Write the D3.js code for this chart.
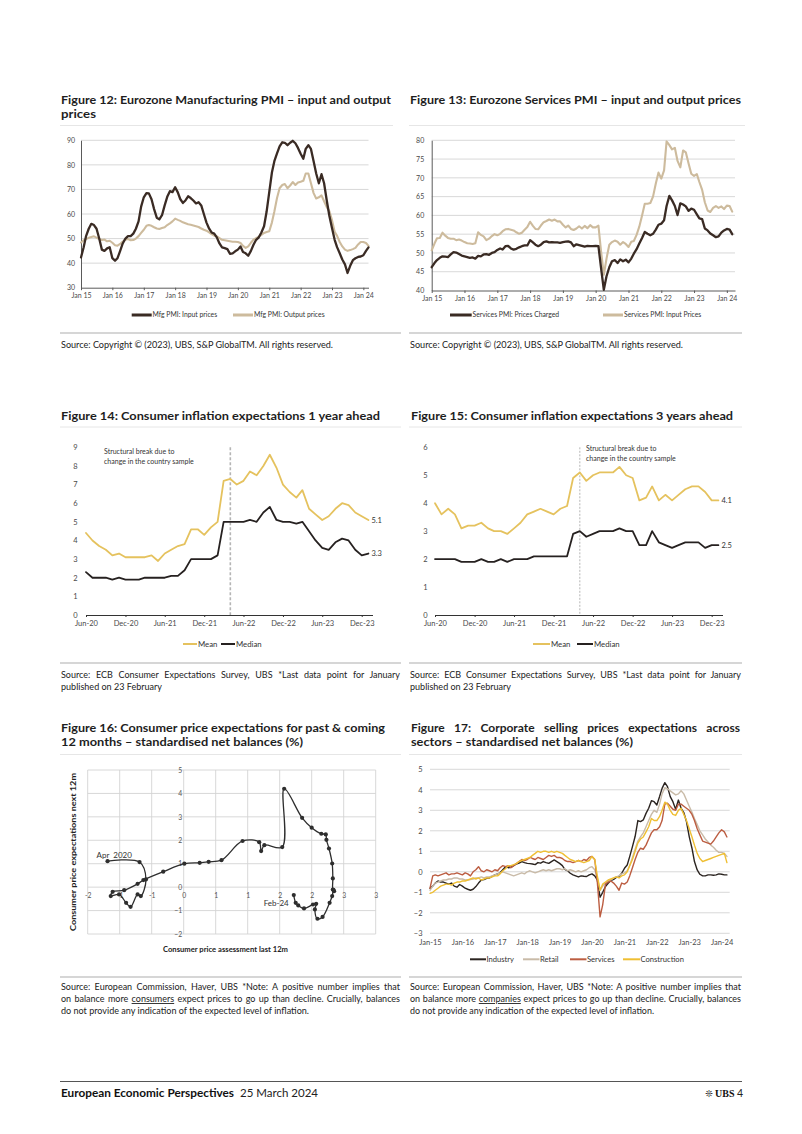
<!DOCTYPE html>
<html><head><meta charset="utf-8">
<script src="https://cdn.jsdelivr.net/npm/d3@7/dist/d3.min.js"></script>
<style>
html,body{margin:0;padding:0;background:#fff;}
svg{display:block;}
</style></head>
<body>
<svg id="page" width="802" height="1134" viewBox="0 0 802 1134"></svg>
<script>
// ================= DATA =================
const pmiStart = "2015-01";
const pmiYears = [2015,2016,2017,2018,2019,2020,2021,2022,2023,2024];

// Figure 12: Eurozone Manufacturing PMI (monthly, Jan 2015 - Mar 2024)
const f12Input = [
  42.3,46.5,51,54,56,55.5,54,50,45.5,45,46,46.5,
  42,41,42,45,48,50,51,51,52,54,57,63,
  66.8,68.5,68.4,66,62,58.5,57.8,59.5,63.5,67,69.3,68.9,
  70.9,68.8,66.1,64.5,65.5,67.2,66.5,65.5,64.3,64.8,63.5,60,
  56.5,54,52.5,52,50.5,48,46.4,46.1,45.7,43.8,44,44.8,
  45.5,46.8,44.5,44,43,45,47.5,49.5,50.5,52.5,55,61,
  69,77,81.5,84.7,87.5,89.2,89,88,89,89.8,88.8,86.9,
  84.5,82.5,86.5,88,86.5,81.5,76.5,72.5,76.2,72.5,65.5,59.3,
  54.3,49.5,46.5,44,41.5,39.5,36,38.9,41.2,42,42.5,42.7,
  43.2,45,46.4];
const f12Output = [
  48.4,49.3,49.8,50.3,50.6,50.9,50.4,49.8,49.4,49.6,48.9,49.1,
  48.3,47.3,47.1,47.8,48.8,49.5,49.8,49.3,49.4,50,51,52.3,
  53.6,55.2,55.5,55.2,54.6,54.1,53.9,54.3,54.6,55.5,56.2,57,
  58.1,57.6,57.2,56.6,56.2,55.8,55.6,55.3,55,54.7,54.1,53.6,
  53.2,52.5,51.8,51.2,50.9,50.2,49.5,49.3,49.1,48.9,48.7,48.7,
  48.6,48.2,47,46.2,46.8,48.3,49.6,50.2,50.8,51.5,52.3,52.7,
  53,56.6,61,66.5,70.5,71.8,72.2,70.5,71.6,73,71.8,72.8,
  73.1,73.5,76.5,76.5,72.5,68.5,66.3,66.8,67.6,65.2,62.8,61.2,
  57.5,52.8,51.1,48.6,46.8,45.5,45,45.3,45.7,46.2,47.6,48.6,
  48.6,48.2,47];
const f12YTicks = [30,40,50,60,70,80,90];
const f12Names = ["Mfg PMI: Input prices","Mfg PMI: Output prices"];

// Figure 13: Eurozone Services PMI (monthly, Jan 2015 - Mar 2024)
const f13Charged = [
  46.2,47.3,48.1,48.7,49.1,49.0,48.9,49.6,50.2,50.1,49.7,49.3,
  49.1,48.9,48.7,48.8,48.5,49.2,49.1,49.6,49.7,49.5,50,50.2,
  50.8,51.2,50.9,51.8,51.9,51.2,50.9,51.1,51.5,51.8,52,52,
  53.4,52.8,52.2,51.8,52.2,52.9,53.1,52.8,52.9,52.8,52.8,52.7,
  52.9,53,53.1,52.8,51.8,52.3,52.1,51.9,51.7,51.9,51.8,51.8,
  51.9,51.8,46,40.2,43.8,46.2,47.8,48.1,47.3,48.3,47.8,48.2,
  47.5,48.5,49.8,51,52.5,54,55.6,55.1,54.7,55.1,56.2,57.5,
  57.8,58.7,62.5,65.2,64,62.5,60.1,63.2,62.9,62.4,61.2,61.8,
  61.5,60.3,59.2,59,56.5,56,55.2,54.7,54.2,54.4,55.4,56,
  56.4,56.2,55];
const f13Input = [
  50.7,52.5,53.9,54,55.4,54.6,54,53.8,53.8,53.4,53.6,53.3,
  52.9,52.6,52.5,52.4,52.6,55.5,54.8,54.4,53.4,53.8,54.5,55,
  54.7,55.1,55.8,56.3,56.4,56.2,56,55.5,55.1,55.4,56.2,56.9,
  58.3,57.2,56.4,56.3,57.3,58.2,58.5,58.9,58.6,58.9,58.4,58.4,
  57.5,56.8,57.3,56.4,56.1,56.5,57.1,56.5,57.2,56.6,57.4,56.8,
  56.8,57.3,50.5,44.2,48.5,52.2,52.9,53.3,53,52.2,52.9,52.4,
  51.6,53,53.2,54.8,57,60,63.1,63.1,63.3,65,68.5,71.4,
  69.8,72,79.7,78.7,77.6,78,74.5,72.8,77.3,76.8,73.8,71.1,
  70.5,71,68.9,66.8,63.5,61.3,60.9,62,62.5,62,62.4,61.7,
  62.6,62.5,61];
const f13YTicks = [40,45,50,55,60,65,70,75,80];
const f13Names = ["Services PMI: Prices Charged","Services PMI: Input Prices"];

// Figures 14 & 15: ECB Consumer Expectations Survey (monthly, Jun 2020 - Jan 2024)
const ceStart = "2020-06";
const ceBreak = "2022-04";
const ceXTicks = ["2020-06","2020-12","2021-06","2021-12","2022-06","2022-12","2023-06","2023-12"];
const ceNames = ["Mean","Median"];
const f14Mean = [4.4,4.0,3.7,3.5,3.2,3.3,3.1,3.1,3.1,3.1,3.2,2.9,3.3,3.5,3.7,3.8,4.6,4.6,4.3,4.7,5.0,
  7.2,7.3,7.0,7.2,7.7,7.5,8.0,8.6,7.9,7.0,6.6,6.3,6.7,5.7,5.4,5.1,5.3,5.7,6.0,5.9,5.5,5.3,5.1];
const f14Median = [2.3,2.0,2.0,2.0,1.9,2.0,1.9,1.9,1.9,2.0,2.0,2.0,2.0,2.1,2.1,2.4,3.0,3.0,3.0,3.0,3.2,
  5.0,5.0,5.0,5.0,5.1,5.0,5.5,5.8,5.1,5.0,5.0,4.9,5.0,4.5,4.0,3.6,3.5,3.9,4.1,4.0,3.5,3.2,3.3];
const f14YTicks = [0,1,2,3,4,5,6,7,8,9];
const f15Mean = [4.0,3.6,3.8,3.6,3.1,3.2,3.2,3.3,3.1,3.0,3.0,2.9,3.1,3.3,3.6,3.7,3.8,3.7,3.6,3.8,3.9,
  4.9,5.1,4.8,5.0,5.1,5.1,5.1,5.3,5.0,4.9,4.1,4.2,4.6,4.1,4.3,4.1,4.3,4.5,4.6,4.6,4.4,4.1,4.1];
const f15Median = [2.0,2.0,2.0,2.0,1.9,1.9,1.9,2.0,1.9,1.9,2.0,1.9,2.0,2.0,2.0,2.1,2.1,2.1,2.1,2.1,2.1,
  2.9,3.0,2.8,2.9,3.0,3.0,3.0,3.1,3.0,3.0,2.5,2.5,3.0,2.6,2.5,2.4,2.5,2.6,2.6,2.6,2.4,2.5,2.5];
const f15YTicks = [0,1,2,3,4,5,6];
const ceNote = ["Structural break due to","change in the country sample"];

// Figure 16: past assessment (x) vs expectations (y), Apr 2020 - Feb 2024
const f16Past = [-1.19,-0.69,-0.59,-0.67,-0.72,-0.83,-0.90,-1.01,-1.14,-1.11,-0.93,-0.72,-0.63,-0.32,
  0.01,0.25,0.39,0.59,0.92,1.18,1.21,1.26,1.54,1.57,1.85,2.00,2.15,2.22,2.23,2.27,2.32,2.33,2.33,
  2.35,2.34,2.32,2.28,2.17,2.09,2.05,2.07,2.02,1.88,1.79,1.75,1.72];
const f16Next = [1.11,1.07,0.33,-0.38,-0.31,-0.84,-0.67,-0.31,-0.38,-0.20,-0.13,0.14,0.30,0.66,
  1.00,1.04,1.08,1.15,1.97,1.92,1.54,1.79,1.71,4.20,2.96,2.54,2.28,2.25,2.02,1.65,1.01,0.37,-0.10,
  -0.17,-0.12,-0.38,-0.67,-1.27,-1.35,-0.95,-0.71,-0.74,-0.91,-0.78,-0.67,-0.34];
const f16Labels = ["Apr  2020","Feb-24"];
const f16XTicks = [-1.5,-1,-0.5,0,0.5,1,1.5,2,2.5,3];
const f16YTicks = [-2,-1,0,1,2,3,4,5];

// Figure 17: corporate selling price expectations (monthly, Jan 2015 - Mar 2024)
const f17Industry = [
  -0.8,-0.7,-0.55,-0.45,-0.5,-0.5,-0.55,-0.6,-0.55,-0.7,-0.75,-0.62,
  -0.7,-0.8,-0.85,-0.9,-0.85,-0.72,-0.55,-0.4,-0.38,-0.32,-0.3,-0.22,
  -0.15,-0.1,-0.05,0.1,0.25,0.2,0.22,0.3,0.38,0.42,0.5,0.45,
  0.41,0.4,0.38,0.35,0.45,0.42,0.5,0.45,0.41,0.5,0.58,0.5,
  0.41,0.3,0.12,0.05,-0.07,-0.15,-0.2,-0.25,-0.2,-0.22,-0.23,-0.15,
  -0.1,-0.2,-0.4,-1.24,-1.0,-0.72,-0.56,-0.43,-0.37,-0.27,-0.23,-0.07,
  0.17,0.33,0.74,1.23,1.72,2.5,2.45,2.53,2.85,3.1,3.47,3.42,
  3.26,3.67,4.07,4.35,4.15,3.67,3.42,3.05,3.5,3.1,2.89,2.45,
  1.72,1.15,0.5,0.09,-0.12,-0.2,-0.2,-0.15,-0.15,-0.17,-0.15,-0.1,
  -0.12,-0.15,-0.15];
const f17Retail = [
  -0.9,-0.7,-0.55,-0.5,-0.45,-0.4,-0.4,-0.35,-0.35,-0.3,-0.3,-0.35,
  -0.35,-0.4,-0.4,-0.38,-0.35,-0.3,-0.3,-0.25,-0.3,-0.25,-0.25,-0.2,
  -0.15,-0.1,-0.05,0.0,-0.05,-0.1,-0.15,-0.2,-0.15,-0.1,-0.05,-0.1,
  0.0,0.05,0.0,-0.05,0.0,0.05,0.1,0.05,0.1,0.05,0.1,0.15,
  0.15,0.1,0.15,0.05,0.1,0.05,0.0,0.05,0.0,0.05,0.1,0.2,
  0.25,0.1,-0.3,-0.9,-0.7,-0.55,-0.45,-0.4,-0.3,-0.25,-0.2,-0.1,
  -0.05,0.05,0.3,0.7,1.1,1.5,1.7,1.9,2.2,2.5,2.8,3.0,
  2.9,3.3,3.8,4.1,4.05,3.95,3.85,3.75,3.8,3.95,3.8,3.5,
  3.2,2.9,2.6,2.3,2.0,1.8,1.6,1.45,1.3,1.2,1.05,0.95,
  0.95,0.9,0.75];
const f17Services = [
  -0.8,-0.2,-0.15,-0.2,-0.15,-0.1,-0.05,-0.15,-0.1,-0.1,-0.05,-0.1,
  -0.15,-0.05,-0.1,-0.2,0.0,0.1,0.25,0.05,0.0,0.1,0.05,0.0,
  0.1,0.05,0.2,0.3,0.25,0.3,0.2,0.3,0.4,0.5,0.6,0.55,
  0.6,0.7,0.65,0.6,0.7,0.65,0.6,0.7,0.8,0.75,0.8,0.7,
  0.7,0.65,0.55,0.5,0.5,0.45,0.5,0.55,0.5,0.6,0.55,0.7,
  0.75,0.6,-0.5,-2.2,-1.6,-0.6,-0.5,-0.45,-0.55,-0.7,-0.9,-0.55,
  -0.6,-0.5,-0.2,0.2,0.6,0.95,1.15,1.1,1.3,1.6,1.9,2.05,
  2.05,2.2,2.5,3.3,3.35,3.2,3.05,3.0,3.3,3.3,3.2,3.1,
  3.0,2.8,2.5,2.1,1.8,1.5,1.45,1.4,1.35,1.5,1.7,1.9,
  2.05,1.95,1.7];
const f17Construction = [
  -1.05,-1.0,-0.9,-0.8,-0.7,-0.65,-0.6,-0.6,-0.65,-0.55,-0.5,-0.5,
  -0.45,-0.45,-0.4,-0.35,-0.3,-0.35,-0.3,-0.4,-0.35,-0.3,-0.3,-0.25,
  -0.2,-0.2,-0.1,0.05,0.15,0.3,0.3,0.35,0.4,0.5,0.55,0.6,
  0.65,0.7,0.8,0.9,1.0,0.95,1.0,1.0,0.95,1.0,0.95,1.0,
  0.95,0.9,0.8,0.7,0.6,0.55,0.5,0.55,0.5,0.45,0.5,0.55,
  0.75,0.6,-0.2,-0.9,-0.6,-0.5,-0.4,-0.35,-0.3,-0.25,-0.3,-0.2,
  -0.15,0.0,0.3,0.6,1.0,1.4,1.6,1.7,1.95,2.2,2.6,2.5,
  2.5,2.7,3.0,3.4,3.3,3.0,2.8,2.75,3.0,3.1,2.8,2.5,
  2.1,1.7,1.3,0.9,0.65,0.5,0.55,0.6,0.65,0.7,0.75,0.8,
  0.85,0.9,0.45];
const f17YTicks = [-3,-2,-1,0,1,2,3,4,5];
const f17Names = ["Industry","Retail","Services","Construction"];

// ================= DRAWING =================
const FONT = "Lato, 'Open Sans', 'DejaVu Sans', sans-serif";
const C = {dark:"#3a2b24", tan:"#cdbb9d", gold:"#e5c25e", black:"#262120",
  ind:"#2b2420", ret:"#c9bba8", ser:"#bc5d41", con:"#efbf33",
  grid:"#d4d4d4", axis:"#5a5a5a", tick:"#4a4a4a", text:"#1e1e1e"};
const svg = d3.select("#page").attr("font-family", FONT);
const P = d3.timeParse("%Y-%m");
const monthsFrom = (start, n) => d3.range(n).map(i => d3.timeMonth.offset(P(start), i));
const intFmt = d3.format("d");

function fitWidth(t, w, justify) {
  const n = t.node();
  const cur = n.getComputedTextLength();
  const spaces = (n.textContent.match(/ /g) || []).length;
  if (justify && cur < w && spaces) {
    t.attr("word-spacing", (w - cur) / spaces);
    const now = n.getComputedTextLength();
    if (Math.abs(now - w) > 2) t.attr("word-spacing", null).attr("textLength", w).attr("lengthAdjust", "spacing");
  } else {
    t.attr("textLength", w).attr("lengthAdjust", "spacingAndGlyphs");
  }
}
function addText(x, y, s, o = {}) {
  const t = (o.parent || svg).append("text").attr("x", x).attr("y", y)
    .attr("font-size", o.size || 9).attr("font-weight", o.weight || 400)
    .attr("fill", o.fill || C.text).attr("text-anchor", o.anchor || "start");
  if (Array.isArray(s)) {
    s.forEach(p => {
      const ts = t.append("tspan").text(p.s);
      if (p.u) ts.attr("text-decoration", "underline");
    });
  } else t.text(s);
  if (o.pre) t.style("white-space", "pre");
  if (o.width) fitWidth(t, o.width, o.justify);
  return t;
}
function hr(x1, x2, y, stroke, w) {
  svg.append("line").attr("x1", x1).attr("x2", x2).attr("y1", y).attr("y2", y)
    .attr("stroke", stroke).attr("stroke-width", w);
}
function styleAxis(g, size, fill, domainColor) {
  g.attr("font-family", FONT).attr("font-size", size);
  g.selectAll("text").attr("fill", fill);
  g.selectAll(".tick line").attr("stroke", domainColor || C.axis);
  if (domainColor === "none") g.select(".domain").remove();
  else g.select(".domain").attr("stroke", domainColor || C.axis);
}
function legendItem(x1, x2, tx, y, color, width, label, size) {
  svg.append("line").attr("x1", x1).attr("x2", x2).attr("y1", y).attr("y2", y)
    .attr("stroke", color).attr("stroke-width", width);
  addText(tx, y + size * 0.34, label, {size, fill: "#333"});
}
function drawSeries(g, vals, dates, x, y, color, width) {
  const line = d3.line().x((d, i) => x(dates[i])).y(d => y(d));
  g.append("path").datum(vals).attr("d", line).attr("fill", "none")
    .attr("stroke", color).attr("stroke-width", width)
    .attr("stroke-linejoin", "round").attr("stroke-linecap", "round");
}

// ---------- Titles / separators / sources ----------
addText(61, 104, "Figure 12: Eurozone Manufacturing PMI \u2013 input and output", {size: 12, weight: 700, width: 330});
addText(61, 118, "prices", {size: 12, weight: 700, width: 35});
addText(410, 104, "Figure 13: Eurozone Services PMI \u2013 input and output prices", {size: 12, weight: 700, width: 331});
hr(60, 393, 125.5, "#e6e6e6", 1);
hr(409, 745, 125.5, "#e6e6e6", 1);
hr(60, 401, 333, "#c9c9c9", 1.4);
hr(409, 742, 333, "#c9c9c9", 1.4);
addText(61, 348, "Source: Copyright \u00a9 (2023), UBS, S&P GlobalTM. All rights reserved.", {size: 9, width: 272, fill: "#222"});
addText(410, 348, "Source: Copyright \u00a9 (2023), UBS, S&P GlobalTM. All rights reserved.", {size: 9, width: 273, fill: "#222"});

addText(61, 419.5, "Figure 14: Consumer inflation expectations 1 year ahead", {size: 12, weight: 700, width: 319});
addText(411, 419.5, "Figure 15: Consumer inflation expectations 3 years ahead", {size: 12, weight: 700, width: 322});
hr(60, 401, 427, "#e6e6e6", 1);
hr(409, 742, 427, "#e6e6e6", 1);
hr(60, 401, 663, "#c9c9c9", 1.4);
hr(409, 742, 663, "#c9c9c9", 1.4);
addText(61, 678, "Source: ECB Consumer Expectations Survey, UBS *Last data point for January", {size: 9, width: 339, justify: true, fill: "#222"});
addText(61, 689.5, "published on 23 February", {size: 9, width: 101, fill: "#222"});
addText(410, 678, "Source: ECB Consumer Expectations Survey, UBS *Last data point for January", {size: 9, width: 331, justify: true, fill: "#222"});
addText(410, 689.5, "published on 23 February", {size: 9, width: 101, fill: "#222"});

addText(61, 732, "Figure 16: Consumer price expectations for past & coming", {size: 12, weight: 700, width: 324});
addText(61, 746, "12 months \u2013 standardised net balances (%)", {size: 12, weight: 700, width: 242});
addText(411, 732, "Figure 17: Corporate selling prices expectations across", {size: 12, weight: 700, width: 329, justify: true});
addText(411, 746, "sectors \u2013 standardised net balances (%)", {size: 12, weight: 700, width: 222});
hr(60, 401, 754.5, "#e6e6e6", 1);
hr(409, 742, 754.5, "#e6e6e6", 1);
hr(60, 401, 977, "#c9c9c9", 1.4);
hr(409, 742, 977, "#c9c9c9", 1.4);
addText(61, 990, "Source: European Commission, Haver, UBS *Note: A positive number implies that", {size: 9, width: 339, justify: true, fill: "#222"});
addText(61, 1002, [{s: "on balance more "}, {s: "consumers", u: true}, {s: " expect prices to go up than decline. Crucially, balances"}], {size: 9, width: 339, justify: true, fill: "#222"});
addText(61, 1014, "do not provide any indication of the expected level of inflation.", {size: 9, width: 248, fill: "#222"});
addText(410, 990, "Source: European Commission, Haver, UBS *Note: A positive number implies that", {size: 9, width: 331, justify: true, fill: "#222"});
addText(410, 1002, [{s: "on balance more "}, {s: "companies", u: true}, {s: " expect prices to go up than decline. Crucially, balances"}], {size: 9, width: 331, justify: true, fill: "#222"});
addText(410, 1014, "do not provide any indication of the expected level of inflation.", {size: 9, width: 244, fill: "#222"});

// ---------- Figure 12 ----------
(function () {
  const dates = monthsFrom(pmiStart, f12Input.length);
  const x = d3.scaleTime().domain([P("2015-01"), P("2024-03")]).range([81, 368.5]);
  const y = d3.scaleLinear().domain([30, 90]).range([287.7, 140.3]);
  const g = svg.append("g");
  g.append("g").selectAll("line").data(f12YTicks.slice(1)).join("line")
    .attr("x1", x.range()[0]).attr("x2", x.range()[1]).attr("y1", d => y(d)).attr("y2", d => y(d))
    .attr("stroke", C.grid).attr("stroke-width", 0.9);
  const ya = g.append("g").attr("transform", `translate(${x.range()[0]},0)`)
    .call(d3.axisLeft(y).tickValues(f12YTicks).tickFormat(intFmt).tickSize(0).tickPadding(6));
  styleAxis(ya, 7, C.tick);
  const xa = g.append("g").attr("transform", `translate(0,${y(30)})`)
    .call(d3.axisBottom(x).tickValues(pmiYears.map(v => new Date(v, 0, 1)))
      .tickFormat(d3.timeFormat("%b %y")).tickSizeInner(2.5).tickSizeOuter(0).tickPadding(2.5));
  styleAxis(xa, 7, C.tick);
  drawSeries(g, f12Output, dates, x, y, C.tan, 2.1);
  drawSeries(g, f12Input, dates, x, y, C.dark, 2.3);
  legendItem(131.7, 151.7, 152.5, 315, C.dark, 3, f12Names[0], 6.8);
  legendItem(233, 253, 254, 315, C.tan, 3, f12Names[1], 6.8);
})();

// ---------- Figure 13 ----------
(function () {
  const dates = monthsFrom(pmiStart, f13Charged.length);
  const x = d3.scaleTime().domain([P("2015-01"), P("2024-04")]).range([431.7, 735]);
  const y = d3.scaleLinear().domain([40, 80]).range([290.5, 140.3]);
  const g = svg.append("g");
  g.append("g").selectAll("line").data(f13YTicks.slice(1)).join("line")
    .attr("x1", x.range()[0]).attr("x2", x.range()[1]).attr("y1", d => y(d)).attr("y2", d => y(d))
    .attr("stroke", C.grid).attr("stroke-width", 0.9);
  const ya = g.append("g").attr("transform", `translate(${x.range()[0]},0)`)
    .call(d3.axisLeft(y).tickValues(f13YTicks).tickFormat(intFmt).tickSize(0).tickPadding(7.5));
  styleAxis(ya, 7, C.tick);
  const xa = g.append("g").attr("transform", `translate(0,${y(40)})`)
    .call(d3.axisBottom(x).tickValues(pmiYears.map(v => new Date(v, 0, 1)))
      .tickFormat(d3.timeFormat("%b %y")).tickSizeInner(2.5).tickSizeOuter(0).tickPadding(3.5));
  styleAxis(xa, 7, C.tick);
  drawSeries(g, f13Input, dates, x, y, C.tan, 2.1);
  drawSeries(g, f13Charged, dates, x, y, C.dark, 2.3);
  legendItem(450, 471.7, 472.5, 315, C.dark, 3, f13Names[0], 6.8);
  legendItem(603, 623, 624, 315, C.tan, 3, f13Names[1], 6.8);
})();

// ---------- Figures 14 & 15 ----------
function ceChart(cfg) {
  const dates = monthsFrom(ceStart, cfg.mean.length);
  const x = d3.scaleTime().domain([P(ceStart), new Date(2024, 0, 20)]).range([cfg.left, cfg.right]);
  const y = d3.scaleLinear().domain([0, cfg.yTicks[cfg.yTicks.length - 1]]).range([615, 447.3]);
  const g = svg.append("g");
  const ya = g.append("g").attr("transform", `translate(${cfg.left},0)`)
    .call(d3.axisLeft(y).tickValues(cfg.yTicks).tickFormat(intFmt).tickSize(0).tickPadding(cfg.yPad));
  styleAxis(ya, 7.5, C.tick, "none");
  const xa = g.append("g").attr("transform", `translate(0,${y(0)})`)
    .call(d3.axisBottom(x).tickValues(ceXTicks.map(P)).tickFormat(d3.timeFormat("%b-%y"))
      .tickSizeInner(2).tickSizeOuter(0).tickPadding(4));
  styleAxis(xa, 7.5, C.tick, "#333");
  xa.select(".domain").attr("stroke-width", 1.2);
  // structural break marker
  const bx = x(P(ceBreak));
  g.append("line").attr("x1", bx).attr("x2", bx).attr("y1", y.range()[1]).attr("y2", y(0))
    .attr("stroke", "#b5b5b5").attr("stroke-width", cfg.dashW).attr("stroke-dasharray", cfg.dash);
  addText(cfg.noteX, cfg.noteY, ceNote[0], {size: 7, fill: "#333", parent: g});
  addText(cfg.noteX, cfg.noteY + 10, ceNote[1], {size: 7, fill: "#333", parent: g});
  drawSeries(g, cfg.mean, dates, x, y, C.gold, 1.8);
  drawSeries(g, cfg.median, dates, x, y, C.black, 1.8);
  const li = cfg.mean.length - 1, fmt = d3.format(".1f");
  addText(x(dates[li]) + 3, y(cfg.mean[li]) + 2.6, fmt(cfg.mean[li]), {size: 7.5, fill: "#333", parent: g});
  addText(x(dates[li]) + 3, y(cfg.median[li]) + 2.6, fmt(cfg.median[li]), {size: 7.5, fill: "#333", parent: g});
  legendItem(cfg.lg[0], cfg.lg[1], cfg.lg[1] + 1, 644, C.gold, 2, ceNames[0], 7.8);
  legendItem(cfg.lg[2], cfg.lg[3], cfg.lg[3] + 1, 644, C.black, 2, ceNames[1], 7.8);
}
ceChart({mean: f14Mean, median: f14Median, yTicks: f14YTicks, left: 86, right: 372.5, yPad: 8.5,
  noteX: 104, noteY: 454, dash: "3,2", dashW: 1.6, lg: [183, 197, 221, 235]});
ceChart({mean: f15Mean, median: f15Median, yTicks: f15YTicks, left: 435, right: 722.5, yPad: 7.5,
  noteX: 586, noteY: 451, dash: "2,1.5", dashW: 1, lg: [533, 550, 577, 593]});

// ---------- Figure 16 ----------
(function () {
  const x = d3.scaleLinear().domain([-1.5, 3]).range([87.7, 375.7]);
  const y = d3.scaleLinear().domain([-2, 5]).range([934, 770]);
  const g = svg.append("g");
  g.append("g").selectAll("line").data(f16XTicks).join("line")
    .attr("x1", d => x(d)).attr("x2", d => x(d)).attr("y1", y(5)).attr("y2", y(-2))
    .attr("stroke", C.grid).attr("stroke-width", 0.9);
  g.append("g").selectAll("line").data(f16YTicks).join("line")
    .attr("x1", x(-1.5)).attr("x2", x(3)).attr("y1", d => y(d)).attr("y2", d => y(d))
    .attr("stroke", C.grid).attr("stroke-width", 0.9);
  const xround = d => String(Math.sign(d) * Math.round(Math.abs(d)));
  const xa = g.append("g").attr("transform", `translate(0,${y(0)})`)
    .call(d3.axisBottom(x).tickValues(f16XTicks).tickFormat(xround).tickSize(0).tickPadding(6));
  styleAxis(xa, 6.8, "#555", "none");
  const ya = g.append("g").attr("transform", `translate(${x(0)},0)`)
    .call(d3.axisLeft(y).tickValues(f16YTicks).tickFormat(intFmt).tickSize(0).tickPadding(1.5));
  styleAxis(ya, 6.8, "#555", "none");
  const idx = d3.range(f16Past.length);
  const line = d3.line().x(i => x(f16Past[i])).y(i => y(f16Next[i])).curve(d3.curveCatmullRom.alpha(0.5));
  g.append("path").datum(idx).attr("d", line).attr("fill", "none").attr("stroke", "#2e2e2e").attr("stroke-width", 1.3);
  g.append("g").selectAll("circle").data(idx).join("circle")
    .attr("cx", i => x(f16Past[i])).attr("cy", i => y(f16Next[i])).attr("r", 2.1).attr("fill", "#2e2e2e");
  const l = f16Past.length - 1;
  addText(x(f16Past[0]) - 11, y(f16Next[0]) - 3, f16Labels[0], {size: 8, fill: "#333", pre: true, parent: g});
  addText(x(f16Past[l]) - 5, y(f16Next[l]) + 10.5, f16Labels[1], {size: 8, fill: "#333", anchor: "end", parent: g});
  const yt = addText(0, 0, "Consumer price expectations next 12m", {size: 7.5, weight: 700, fill: "#222", anchor: "middle", width: 158, parent: g});
  yt.attr("transform", "translate(75.5,852) rotate(-90)");
  addText(225.5, 951.5, "Consumer price assessment last 12m", {size: 7.5, weight: 700, fill: "#222", anchor: "middle", width: 125, parent: g});
})();

// ---------- Figure 17 ----------
(function () {
  const dates = monthsFrom(pmiStart, f17Industry.length);
  const x = d3.scaleTime().domain([P("2015-01"), P("2024-01")]).range([430, 721.6]);
  const y = d3.scaleLinear().domain([-3, 5]).range([933.3, 769.3]);
  const g = svg.append("g");
  const xr = x(P("2024-04"));
  g.append("g").selectAll("line").data(f17YTicks).join("line")
    .attr("x1", x.range()[0]).attr("x2", xr).attr("y1", d => y(d)).attr("y2", d => y(d))
    .attr("stroke", C.grid).attr("stroke-width", 0.9);
  const ya = g.append("g").attr("transform", `translate(${x.range()[0]},0)`)
    .call(d3.axisLeft(y).tickValues(f17YTicks).tickFormat(intFmt).tickSize(0).tickPadding(7.5));
  styleAxis(ya, 7.5, C.tick, "none");
  const xa = g.append("g").attr("transform", `translate(0,${y(-3)})`)
    .call(d3.axisBottom(x).tickValues(pmiYears.map(v => new Date(v, 0, 1)))
      .tickFormat(d3.timeFormat("%b-%y")).tickSize(0).tickPadding(6.5));
  styleAxis(xa, 7.5, C.tick, "none");
  const cols = [C.ind, C.ret, C.ser, C.con];
  [f17Industry, f17Retail, f17Services, f17Construction].forEach((s, k) =>
    drawSeries(g, s, dates, x, y, cols[k], 1.4));
  const lg = [[470, 486], [523, 539.5], [570, 586.5], [623, 640]];
  lg.forEach((p, k) => legendItem(p[0], p[1], p[1] + 0.5, 959.3, cols[k], 2, f17Names[k], 7.6));
})();

// ---------- Footer ----------
hr(60, 742, 1081.5, "#555", 1);
addText(61, 1097, "European Economic Perspectives", {size: 11, weight: 700, width: 173, fill: "#111"});
addText(240, 1097, "25 March 2024", {size: 11, width: 78, fill: "#222"});
svg.append("text").attr("x", 705).attr("y", 1097).attr("font-size", 9.5)
  .attr("font-family", "'DejaVu Sans', sans-serif").attr("fill", "#222").text("\u274A");
svg.append("text").attr("x", 715).attr("y", 1097).attr("font-size", 10).attr("font-weight", 700)
  .attr("font-family", "'Liberation Serif', 'DejaVu Serif', serif").attr("fill", "#111").text("UBS");
addText(737, 1097, "4", {size: 10.5, fill: "#222"});
</script>
</body></html>
